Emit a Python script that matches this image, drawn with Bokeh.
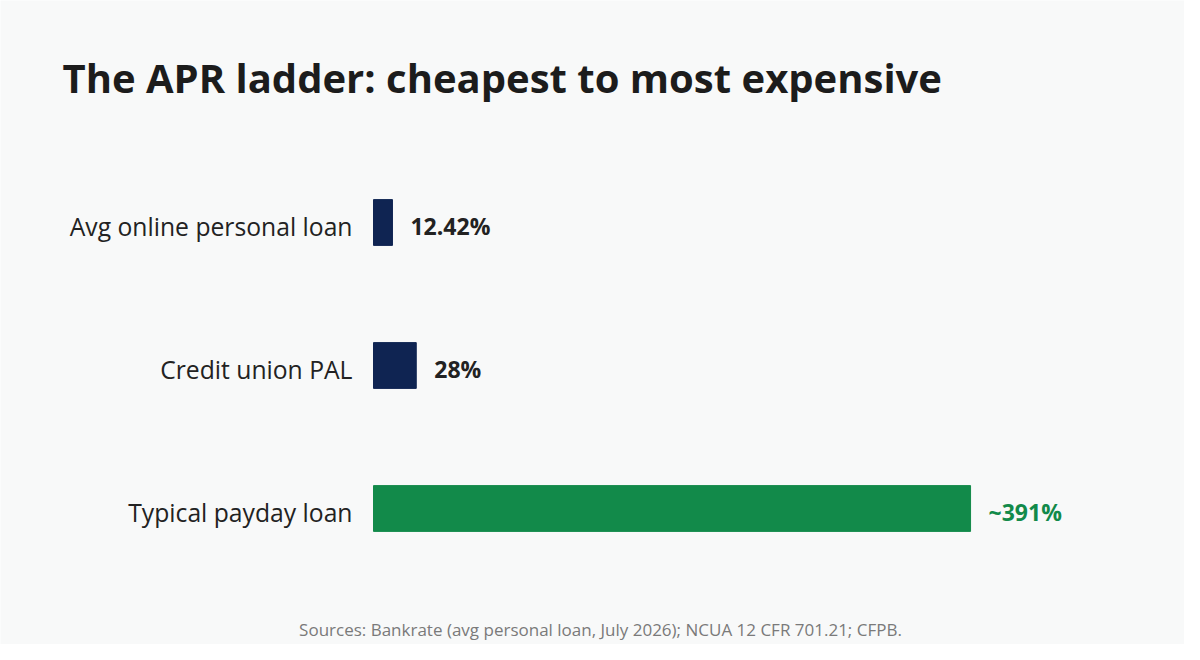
from bokeh.plotting import figure
from bokeh.models import ColumnDataSource, Label, Range1d
from bokeh.embed import file_html
from bokeh.resources import INLINE
from bokeh.core.properties import value

# data
categories = ["Avg online personal loan", "Credit union PAL", "Typical payday loan"]
apr_values = [12.42, 28, 391]
value_labels = ["12.42%", "28%", "~391%"]
bar_colors = ["#0f2452", "#0f2452", "#128a4a"]
label_colors = ["#222222", "#222222", "#128a4a"]

title_text = "The APR ladder: cheapest to most expensive"
source_text = "Sources: Bankrate (avg personal loan, July 2026); NCUA 12 CFR 701.21; CFPB."

BG = "#f8f9f9"
FONT = "Open Sans"
W, H = 1184, 644

# layout in canvas pixels (frame fills the whole canvas)
BAR_LEFT_PX = 373      # where APR 0 sits
PX_PER_PCT = 1.527     # pixels per APR point
ROW0_PX = 222          # centre of first row
ROW_PX = 143           # row pitch


def px_x(px):
    return (px - BAR_LEFT_PX) / PX_PER_PCT


def px_y(py):
    return (py - ROW0_PX) / ROW_PX


rows = list(range(len(categories)))

source = ColumnDataSource(data=dict(
    row=rows,
    cat=categories,
    apr=apr_values,
    label=value_labels,
    color=bar_colors,
    label_color=label_colors,
))

p = figure(
    width=W, height=H,
    x_range=Range1d(px_x(0), px_x(W)),
    y_range=Range1d(px_y(H), px_y(0)),
    x_axis_type=None, y_axis_type=None,
    output_backend="svg",
    toolbar_location=None,
    tools="",
    min_border=0,
)

p.hbar(y="row", right="apr", left=0, height=0.32, color="color", source=source)

# value labels
p.text(x="apr", y="row", text="label", source=source,
       x_offset=18, y_offset=3, text_baseline="middle", text_align="left",
       text_font=value(FONT), text_font_style="bold", text_font_size="23px",
       text_color="label_color")

# category labels
p.text(x=0, y="row", text="cat", source=source,
       x_offset=-21, y_offset=4, text_baseline="middle", text_align="right",
       text_font=value(FONT), text_font_size="24.7px", text_color="#222222")

p.grid.visible = False
p.outline_line_color = None
p.background_fill_color = BG
p.border_fill_color = BG

# label baselines land lower than asked, so aim a little higher
p.add_layout(Label(x=px_x(62), y=px_y(77), text=title_text,
                   text_font=FONT, text_font_style="bold", text_font_size="40px",
                   text_color="#1c1c1c", text_baseline="alphabetic"))
p.add_layout(Label(x=px_x(600), y=px_y(629), text=source_text,
                   text_font=FONT, text_font_size="17px", text_color="#7a7a7a",
                   text_align="center", text_baseline="alphabetic"))

html = file_html(p, INLINE, "APR ladder")
html = html.replace("<body>", '<body style="background:%s">' % BG, 1)
open("out.html", "w").write(html)
